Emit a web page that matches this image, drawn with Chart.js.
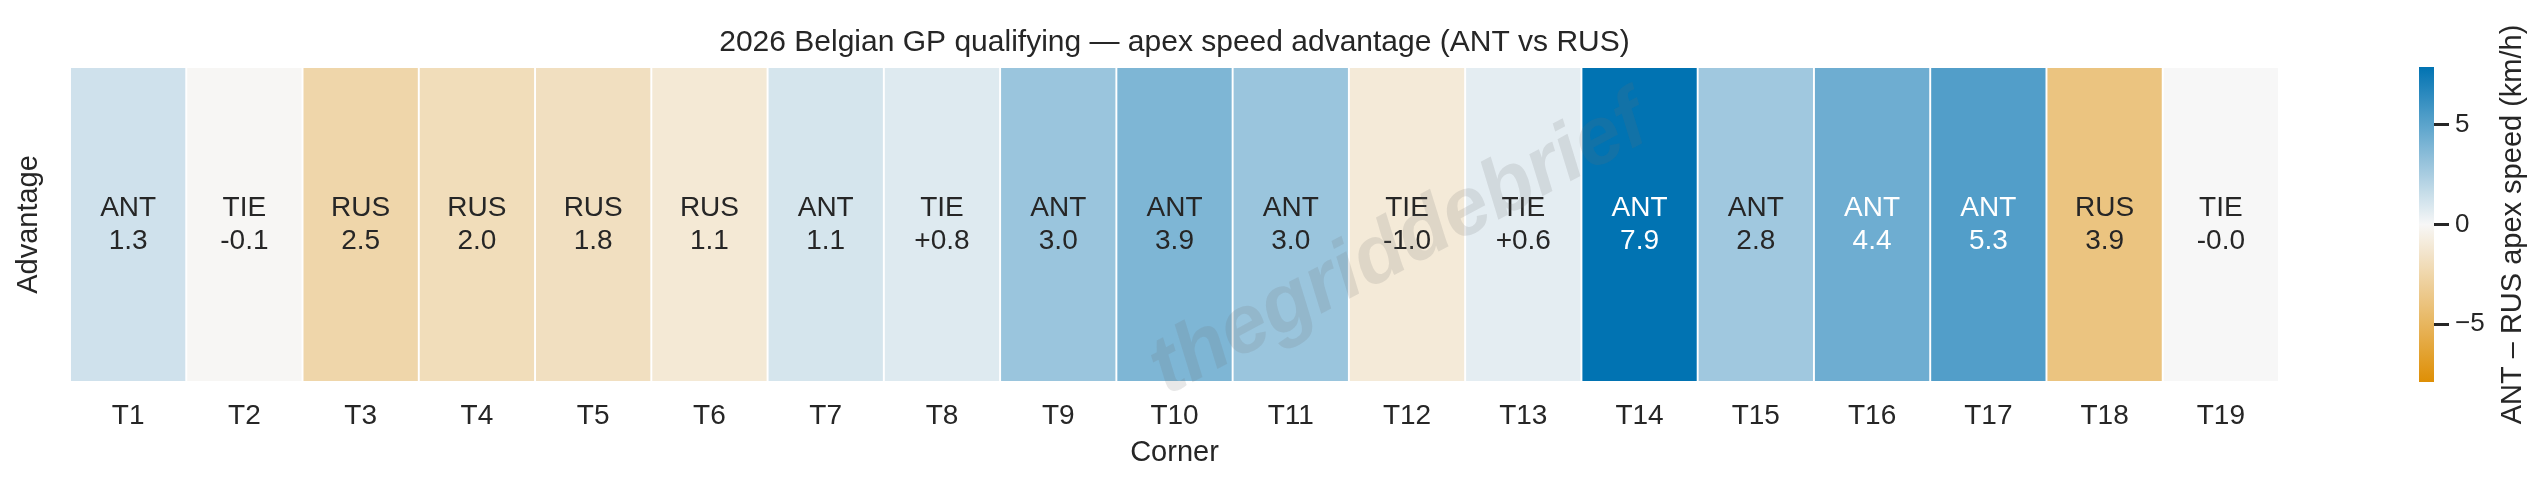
<!DOCTYPE html>
<html>
<head>
<meta charset="utf-8">
<script src="https://cdn.jsdelivr.net/npm/chart.js@4.4.1/dist/chart.umd.min.js"></script>
<style>
  html, body { margin: 0; padding: 0; background: #ffffff; }
  #wrap { position: relative; width: 2546px; height: 488px; overflow: hidden; }
  #wrap canvas { position: absolute; top: 0; }
</style>
</head>
<body>
<div id="wrap">
  <canvas id="main" width="2546" height="488" style="left:0;width:2546px;height:488px"></canvas>
  <canvas id="cbar" width="166" height="488" style="left:2380px;width:166px;height:488px"></canvas>
</div>
<script>
// ---------- data ----------
const corners = ['T1','T2','T3','T4','T5','T6','T7','T8','T9','T10','T11','T12','T13','T14','T15','T16','T17','T18','T19'];
// ANT - RUS apex speed (km/h)
const deltas = [1.3, -0.1, -2.5, -2.0, -1.8, -1.1, 1.1, 0.8, 3.0, 3.9, 3.0, -1.0, 0.6, 7.9, 2.8, 4.4, 5.3, -3.9, -0.0];
const leaders = ['ANT','TIE','RUS','RUS','RUS','RUS','ANT','TIE','ANT','ANT','ANT','TIE','TIE','ANT','ANT','ANT','ANT','RUS','TIE'];
const valueLabels = ['1.3','-0.1','2.5','2.0','1.8','1.1','1.1','+0.8','3.0','3.9','3.0','-1.0','+0.6','7.9','2.8','4.4','5.3','3.9','-0.0'];
const colorbarTicks = [-5, 0, 5];
const colorLimit = 7.9;

const titleText = '2026 Belgian GP qualifying \u2014 apex speed advantage (ANT vs RUS)';
const xTitle = 'Corner';
const yTitle = 'Advantage';
const cbarTitle = 'ANT \u2013 RUS apex speed (km/h)';
const watermark = 'thegriddebrief';

// ---------- styling ----------
const FONT = "'Liberation Sans', Arial, Helvetica, sans-serif";
const TEXT = '#262626';
const cmapStops = [[222,143,5],[247,247,247],[1,115,178]]; // orange -> light -> blue

function cmapRGB(v) {
  let t = (v + colorLimit) / (2 * colorLimit);
  t = Math.max(0, Math.min(1, t));
  let a, b, u;
  if (t < 0.5) { a = cmapStops[0]; b = cmapStops[1]; u = t / 0.5; }
  else { a = cmapStops[1]; b = cmapStops[2]; u = (t - 0.5) / 0.5; }
  return [0,1,2].map(i => a[i] + (b[i] - a[i]) * u);
}
function rgbStr(c) { return 'rgb(' + c.map(x => Math.round(x)).join(',') + ')'; }
function luminance(c) {
  const l = c.map(x => { x /= 255; return x <= 0.03928 ? x / 12.92 : Math.pow((x + 0.055) / 1.055, 2.4); });
  return 0.2126 * l[0] + 0.7152 * l[1] + 0.0722 * l[2];
}

Chart.defaults.font.family = FONT;
Chart.defaults.color = TEXT;
Chart.defaults.animation = false;

// ---------- main heatmap ----------
const cellLabelPlugin = {
  id: 'cellLabels',
  afterDatasetsDraw(chart) {
    const ctx = chart.ctx;
    const meta = chart.getDatasetMeta(0);
    const y = chart.scales.y;
    const yc = y.getPixelForValue(0.5);
    const fs = 28, lh = 33;
    ctx.save();
    ctx.font = fs + 'px ' + FONT;
    ctx.textAlign = 'center';
    ctx.textBaseline = 'middle';
    meta.data.forEach((bar, i) => {
      const c = cmapRGB(deltas[i]);
      ctx.fillStyle = luminance(c) > 0.408 ? TEXT : '#ffffff';
      ctx.fillText(leaders[i], bar.x, yc - lh / 2);
      ctx.fillText(valueLabels[i], bar.x, yc + lh / 2);
    });
    ctx.restore();
  },
  afterDraw(chart) {
    const ctx = chart.ctx;
    const a = chart.chartArea;
    ctx.save();
    ctx.translate(a.left + (a.right - a.left) * 0.602, (a.top + a.bottom) / 2 + 22);
    ctx.rotate(-28 * Math.PI / 180);
    ctx.font = 'italic bold 82px ' + FONT;
    ctx.textAlign = 'center';
    ctx.textBaseline = 'middle';
    ctx.fillStyle = 'rgba(110,110,110,0.16)';
    ctx.fillText(watermark, 0, 0);
    ctx.restore();
  }
};

new Chart(document.getElementById('main'), {
  type: 'bar',
  data: {
    labels: corners,
    datasets: [{
      data: corners.map(() => 1),
      backgroundColor: deltas.map(d => rgbStr(cmapRGB(d))),
      borderColor: '#ffffff',
      borderWidth: 1.3,
      borderSkipped: false,
      barPercentage: 1,
      categoryPercentage: 1
    }]
  },
  options: {
    responsive: false,
    devicePixelRatio: 1,
    animation: false,
    events: [],
    layout: { padding: { left: 0, right: 267, top: 0, bottom: 0 } },
    plugins: {
      legend: { display: false },
      tooltip: { enabled: false },
      title: {
        display: true,
        text: titleText,
        fullSize: false,
        color: TEXT,
        font: { size: 30, weight: 'normal', family: FONT, lineHeight: 1.2 },
        padding: { top: 25, bottom: 6 }
      }
    },
    scales: {
      x: {
        type: 'category',
        grid: { display: false, drawTicks: false },
        border: { display: false },
        ticks: { color: TEXT, font: { size: 28, family: FONT }, padding: 17, maxRotation: 0, autoSkip: false },
        title: { display: true, text: xTitle, color: TEXT, font: { size: 29, family: FONT, lineHeight: 1.2 }, padding: { top: 0, bottom: 18 } },
        afterFit(s) { s.height = 106; }
      },
      y: {
        min: 0, max: 1,
        grid: { display: false, drawTicks: false },
        border: { display: false },
        ticks: { display: false },
        title: { display: true, text: yTitle, color: TEXT, font: { size: 29, family: FONT, lineHeight: 1.2 }, padding: { top: 12, bottom: 0 } },
        afterFit(s) { s.width = 70; }
      }
    }
  },
  plugins: [cellLabelPlugin]
});

// ---------- colorbar ----------
const cbarLabelPlugin = {
  id: 'cbarLabel',
  afterDraw(chart) {
    const ctx = chart.ctx;
    const a = chart.chartArea;
    ctx.save();
    ctx.translate(133, (a.top + a.bottom) / 2);
    ctx.rotate(-Math.PI / 2);
    ctx.font = '29px ' + FONT;
    ctx.fillStyle = TEXT;
    ctx.textAlign = 'center';
    ctx.textBaseline = 'middle';
    ctx.fillText(cbarTitle, 0, 0);
    ctx.restore();
  }
};

new Chart(document.getElementById('cbar'), {
  type: 'bar',
  data: {
    labels: [''],
    datasets: [{
      data: [[-colorLimit, colorLimit]],
      backgroundColor(ctx) {
        const chart = ctx.chart;
        const a = chart.chartArea;
        if (!a) return 'rgba(0,0,0,0)';
        const y = chart.scales.y;
        const g = chart.ctx.createLinearGradient(0, y.getPixelForValue(-colorLimit), 0, y.getPixelForValue(colorLimit));
        for (let k = 0; k <= 20; k++) {
          const v = -colorLimit + (2 * colorLimit) * k / 20;
          g.addColorStop(k / 20, rgbStr(cmapRGB(v)));
        }
        return g;
      },
      borderWidth: 0,
      barPercentage: 1,
      categoryPercentage: 1
    }]
  },
  options: {
    responsive: false,
    devicePixelRatio: 1,
    animation: false,
    events: [],
    layout: { padding: { left: 39, right: 0, top: 67, bottom: 106 } },
    plugins: { legend: { display: false }, tooltip: { enabled: false }, title: { display: false } },
    scales: {
      x: { display: false },
      y: {
        position: 'right',
        min: -colorLimit, max: colorLimit,
        afterBuildTicks(s) { s.ticks = colorbarTicks.map(v => ({ value: v })); },
        grid: { display: true, drawOnChartArea: false, drawTicks: true, tickLength: 15, tickWidth: 3, tickColor: TEXT },
        border: { display: false },
        ticks: {
          color: TEXT, font: { size: 26, family: FONT }, padding: 6,
          callback: v => (v < 0 ? '\u2212' + Math.abs(v) : String(v))
        },
        afterFit(s) { s.width = 112; }
      }
    }
  },
  plugins: [cbarLabelPlugin]
});
</script>
</body>
</html>
